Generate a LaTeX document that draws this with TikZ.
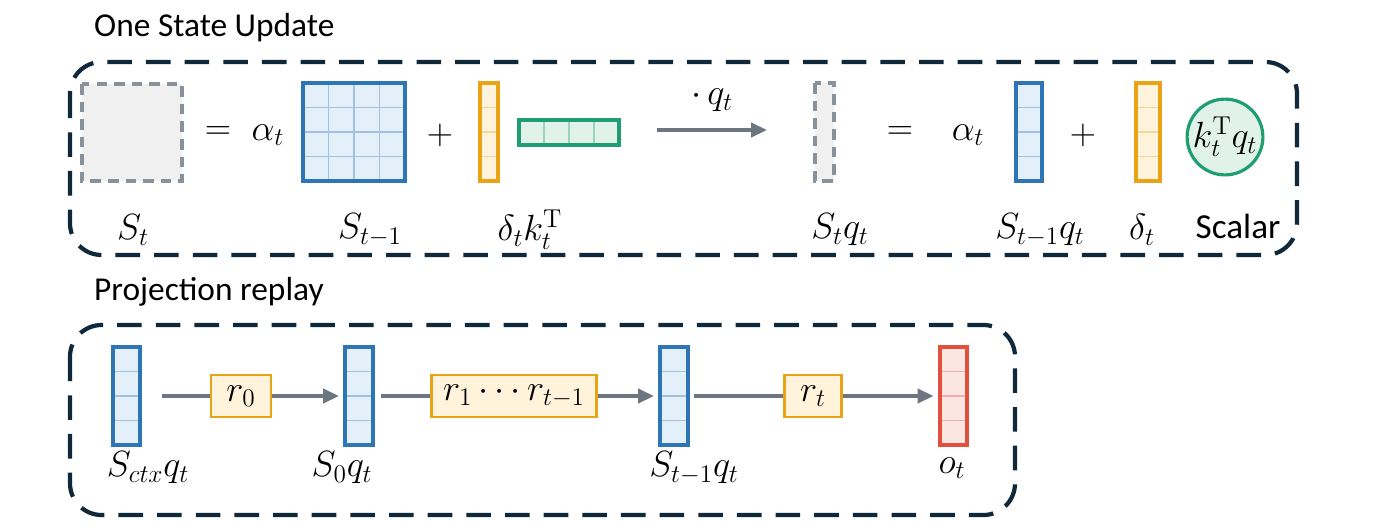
\documentclass[tikz,border=0pt]{standalone}
\usepackage{fontspec}
\setsansfont{Carlito}
\usepackage{amsmath}
\usetikzlibrary{arrows.meta,calc}
\definecolor{navy}{HTML}{10293A}
\definecolor{bblue}{HTML}{2E75B6}
\definecolor{fblue}{HTML}{E3EFF9}
\definecolor{borange}{HTML}{E8A317}
\definecolor{forange}{HTML}{FFF3DC}
\definecolor{bgreen}{HTML}{1F9D73}
\definecolor{fgreen}{HTML}{E0F2EA}
\definecolor{bred}{HTML}{E0503C}
\definecolor{fred}{HTML}{FBE6E2}
\definecolor{agray}{HTML}{6C7580}
\tikzset{
  frame/.style={draw=navy,line width=2.4pt,dash pattern=on 14pt off 8pt,rounded corners=18pt},
  ttl/.style={anchor=west,font=\sffamily\fontsize{19}{22}\selectfont},
  lbl/.style={font=\fontsize{21}{24}\selectfont},
  cell/.style={line width=1.8pt,draw=#1},
  flow/.style={draw=agray,line width=1.9pt},
  rbox/.style={draw=borange,fill=forange,line width=1.6pt,inner sep=2pt,minimum height=0.84cm,font=\fontsize{21}{24}\selectfont}
}
% column vector with 4 cells: name, left x, top y, width, border, fill
\newcommand\colvec[6]{%
  \draw[cell=#5,fill=#6] (#2,#3) rectangle ++(#4,98);
  \foreach \k in {1,2,3} \draw[#5!45,line width=0.7pt] ($(#2,#3)+(0,24.5*\k)$) -- ++(#4,0);
  \draw[cell=#5] (#2,#3) rectangle ++(#4,98);
  \coordinate (#1) at ($(#2,#3)+(0.5*#4,49)$);}
\begin{document}
\begin{tikzpicture}[x=0.02cm,y=-0.02cm]
\useasboundingbox (0,0) rectangle (1400,531);
% one state update
\node[ttl] (t1) at (88,28) {One State Update};
\draw[frame] (70,62) rectangle (1297,255);
\draw[agray!80,fill=gray!12,line width=1.8pt,dash pattern=on 6pt off 4pt] (82,84) rectangle (182,181);
\node[lbl] (eq1) at (218,133) {$=$};
\node[lbl] (a1) at (268,135) {$\alpha_t$};
\draw[cell=bblue,fill=fblue] (303,83) rectangle (405,181);
\foreach \k in {1,2,3} {
  \draw[bblue!45,line width=0.7pt] (303+25.5*\k,83) -- (303+25.5*\k,181);
  \draw[bblue!45,line width=0.7pt] (303,83+24.5*\k) -- (405,83+24.5*\k);}
\draw[cell=bblue] (303,83) rectangle (405,181);
\node[lbl] (p1) at (440,135) {$+$};
\colvec{dv}{480}{83}{18}{borange}{forange}
\draw[cell=bgreen,fill=fgreen] (519,120) rectangle (619,145);
\foreach \k in {1,2,3} \draw[bgreen!45,line width=0.7pt] (519+25*\k,120) -- (519+25*\k,145);
\draw[cell=bgreen] (519,120) rectangle (619,145);
\coordinate (m0) at (657,130);
\coordinate (m1) at (767,130);
\draw[flow,-{Triangle[length=9pt,width=8pt]}] (m0) -- (m1) node[midway,above=6pt,lbl,black] {$\cdot\, q_t$};
\draw[agray!80,fill=gray!12,line width=1.8pt,dash pattern=on 6pt off 4pt] (815,83) rectangle (834,181);
\node[lbl] (eq2) at (900,133) {$=$};
\node[lbl] (a2) at (968,135) {$\alpha_t$};
\colvec{bv}{1016}{83}{26}{bblue}{fblue}
\node[lbl] (p2) at (1083,135) {$+$};
\colvec{ov}{1136}{83}{24}{borange}{forange}
\node[circle,draw=bgreen,fill=fgreen,line width=1.8pt,minimum size=1.4cm,inner sep=0pt,lbl] (sc) at (1225,137) {$k_t^{\mathrm{T}}q_t$};
\foreach \x/\t/\n in {133/{$S_t$}/l1,370/{$S_{t-1}$}/l2,530/{$\delta_t k_t^{\mathrm{T}}$}/l3,840/{$S_tq_t$}/l4,1040/{$S_{t-1}q_t$}/l5,1142/{$\delta_t$}/l6}
  \node[lbl] (\n) at (\x,230) {\t};
\node[font=\sffamily\fontsize{20}{23}\selectfont] (l7) at (1238,226) {Scalar};
% projection replay
\node[ttl] (t2) at (88,292) {Projection replay};
\draw[frame] (70,325) rectangle (1015,515);
\colvec{v0}{113}{347}{27}{bblue}{fblue}
\colvec{v1}{345}{347}{28}{bblue}{fblue}
\colvec{v2}{660}{347}{28}{bblue}{fblue}
\colvec{v3}{940}{347}{27}{bred}{fred}
\node[rbox,minimum width=1.2cm] (r0) at (241,396) {$r_0$};
\node[rbox,minimum width=3.3cm] (r1) at (514,396) {$r_1\cdots r_{t-1}$};
\node[rbox,minimum width=1.15cm] (rt) at (813,396) {$r_t$};
\draw[flow] ($(v0)+(35,0)$) -- (r0);
\draw[flow,-{Triangle[length=9pt,width=8pt]}] (r0) -- ($(v1)+(-20,0)$);
\draw[flow] ($(v1)+(22,0)$) -- (r1);
\draw[flow,-{Triangle[length=9pt,width=8pt]}] (r1) -- ($(v2)+(-20,0)$);
\draw[flow] ($(v2)+(20,0)$) -- (rt);
\draw[flow,-{Triangle[length=9pt,width=8pt]}] (rt) -- ($(v3)+(-20,0)$);
\foreach \x/\t/\n in {148/{$S_{ctx}q_t$}/b0,342/{$S_0q_t$}/b1,694/{$S_{t-1}q_t$}/b2,952/{$o_t$}/b3}
  \node[lbl] (\n) at (\x,468) {\t};
\end{tikzpicture}
\end{document}
